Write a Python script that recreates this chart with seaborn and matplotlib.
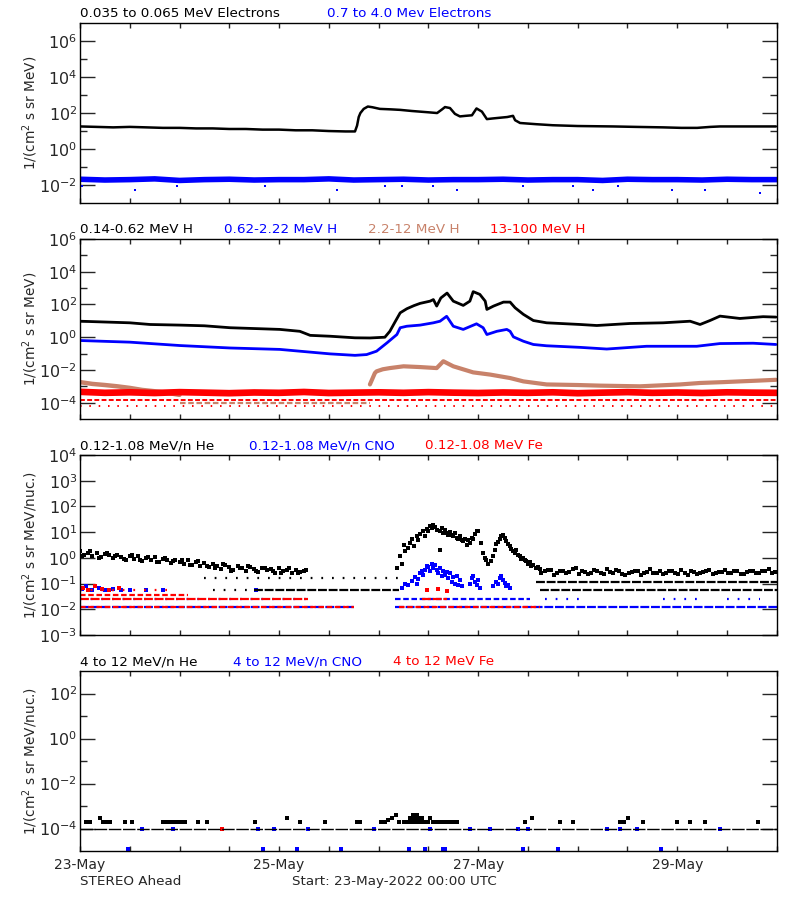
import numpy as np
import pandas as pd
import matplotlib.pyplot as plt
import matplotlib.ticker as mticker
import seaborn as sns

sns.set_style("ticks")
plt.rcParams["font.family"] = ["DejaVu Sans"]
plt.rcParams["mathtext.fontset"] = "dejavusans"

BLACK, BLUE, BROWN, RED = "#000000", "#0000ff", "#c8826a", "#ff0000"

# time axis: hours since 23-May-2022 00:00 UTC
tick_hours = list(range(0, 169, 12))
tick_labels = ["23-May", "", "", "", "25-May", "", "", "", "27-May", "", "", "", "29-May", "", ""]

# ---------------- panel 1: electrons ----------------
e_low_hours = [0, 4, 8, 12, 16, 20, 24, 28, 32, 36,
               40, 44, 48, 52, 56, 60, 64, 66.3, 66.8, 67.2,
               67.6, 68.4, 69.4, 70.5, 72.3, 75, 77.2, 80, 84, 86.1,
               87.3, 88.0, 89.2, 90.4, 91.6, 93, 94.5, 95.6, 96.9, 98.1,
               99.5, 101.3, 103, 104.4, 104.9, 106.1, 110, 114, 120, 128.5,
               134, 140.6, 145, 148.8, 152, 154.3, 160, 167.8]
e_low_flux = [18, 17, 16, 17, 16, 15, 15, 14, 14, 13,
              13, 12, 12, 11, 11, 10, 9.5, 9.5, 20, 60,
              100, 170, 230, 210, 170, 160, 150, 130, 110, 100,
              160, 215, 190, 90, 65, 70, 75, 180, 120, 46,
              50, 55, 60, 70, 40, 28, 24, 21, 19, 18,
              17, 16, 15, 15, 17, 18, 18, 18]

e_high_hours = list(range(0, 169, 6))
e_high_flux = [0.021, 0.019, 0.020, 0.022, 0.018, 0.020, 0.021, 0.019, 0.020, 0.020,
               0.022, 0.019, 0.020, 0.021, 0.019, 0.020, 0.020, 0.021, 0.019, 0.020,
               0.020, 0.018, 0.021, 0.020, 0.020, 0.019, 0.021, 0.020, 0.020]
e_high_out_hours = [0.5, 13.3, 23.4, 44.6, 62.0, 73.5, 77.6, 85.1, 90.8, 106.8, 118.9, 123.7, 129.7, 142.7, 150.7, 164.0]
e_high_out_flux = [0.0085, 0.0056, 0.0085, 0.0085, 0.0056, 0.0085, 0.0085, 0.0085, 0.0056, 0.0085, 0.0085, 0.0056, 0.0085, 0.0056, 0.0056, 0.0036]

# ---------------- panel 2: protons ----------------
p_low_hours = [0, 6, 12, 16.9, 24.1, 30, 36.2, 43.4, 48.2, 53,
               55.5, 60.3, 66.3, 69.9, 73.5, 74.7, 76, 77.2, 78.8, 80.5,
               82, 84.4, 85.2, 86, 87, 87.6, 88.5, 90, 92.4, 94,
               94.8, 96.4, 97.7, 98.1, 99.7, 102.1, 103.7, 104.9, 106.9, 109.3,
               112.5, 120.6, 124.6, 132.6, 140.6, 147.1, 149.5, 151.9, 154.3, 159.1,
               164.7, 167.8]
p_low_flux = [9.5, 8.5, 7.6, 6.0, 5.5, 5.0, 3.8, 3.3, 3.0, 2.3,
              1.3, 1.15, 0.92, 0.9, 1.0, 2.3, 9, 31, 55, 85,
              117, 160, 200, 80, 250, 330, 500, 160, 88, 160,
              610, 415, 160, 50, 80, 140, 140, 63, 25, 10.5,
              7.6, 6.0, 5.2, 6.9, 7.6, 9.5, 6.0, 10.5, 19.5, 14,
              18, 17]

p_mid_hours = [0, 6, 12, 24.1, 36.2, 48.2, 53, 60.3, 66.3, 69.1,
               71.5, 74, 76.4, 77.2, 78.8, 82, 85.2, 86.8, 88.4, 90,
               92.4, 95.6, 97.2, 98.1, 100.5, 102.9, 103.7, 104.5, 106.9, 109.3,
               112.5, 120.6, 127, 136.6, 148.7, 154.3, 162.3, 167.8]
p_mid_flux = [0.63, 0.56, 0.5, 0.31, 0.22, 0.18, 0.14, 0.096, 0.078, 0.087,
              0.14, 0.45, 1.46, 3.8, 4.7, 5.5, 7.6, 9.5, 19, 4.7,
              3.0, 6.6, 3.8, 1.46, 2.3, 3.0, 2.3, 1.05, 0.57, 0.36,
              0.3, 0.24, 0.19, 0.28, 0.28, 0.41, 0.43, 0.36]

p_high_early_hours = [0, 3, 6, 9, 12, 15, 18, 21, 24]
p_high_early_flux = [0.0018, 0.0014, 0.0012, 0.001, 0.0008, 0.0006, 0.0005, 0.0004, 0.0003]
p_high_hours = [69.9, 71.1, 71.5, 73, 74.7, 78, 82, 86, 87.6, 90,
                94.8, 98.9, 103.7, 106.9, 112.5, 120, 125.4, 135, 144.7, 149.5,
                155, 159.1, 163, 167.8]
p_high_flux = [0.0013, 0.0065, 0.0082, 0.011, 0.013, 0.0167, 0.015, 0.013, 0.034, 0.0167,
               0.0071, 0.0052, 0.0032, 0.002, 0.0013, 0.0012, 0.0011, 0.001, 0.0013, 0.0016,
               0.0018, 0.002, 0.0022, 0.0025]
p_high_floor = [1.0e-4, 24, 69.9]   # flux, from hour, to hour

p_top_hours = list(range(0, 169, 6))
p_top_flux = [4.6e-4, 4.0e-4, 4.3e-4, 3.9e-4, 4.4e-4, 4.1e-4, 3.8e-4, 4.2e-4, 4.0e-4, 4.5e-4,
              3.9e-4, 4.1e-4, 4.3e-4, 4.0e-4, 4.4e-4, 4.1e-4, 3.9e-4, 4.2e-4, 4.0e-4, 4.3e-4,
              3.8e-4, 4.1e-4, 4.4e-4, 4.0e-4, 4.2e-4, 3.9e-4, 4.3e-4, 4.1e-4, 4.0e-4]
p_top_rows = [1.5e-4, 6.0e-5]

# ---------------- panel 3: 0.12-1.08 MeV/n ions ----------------
he_pre_hours = list(range(0, 55)) + [h + 0.5 for h in range(0, 55, 2)]
he_pre_flux = [1.8, 1.3, 1.6, 1.2, 1.5, 1.1, 1.4, 1.25, 0.95, 1.3,
               1.1, 0.8, 1.15, 0.9, 1.2, 0.75, 1.0, 0.85, 1.05, 0.7,
               0.9, 0.8, 0.65, 0.85, 0.7, 0.6, 0.8, 0.55, 0.7, 0.5,
               0.65, 0.45, 0.6, 0.5, 0.38, 0.55, 0.45, 0.35, 0.5, 0.4,
               0.3, 0.45, 0.36, 0.28, 0.42, 0.33, 0.38, 0.26, 0.4, 0.3,
               0.35, 0.25, 0.33, 0.28, 0.3,
               1.2, 1.9, 1.0, 1.6, 1.15, 0.9, 1.3, 0.8, 1.1, 0.7,
               1.0, 0.75, 0.85, 0.55, 0.75, 0.5, 0.4, 0.6, 0.32, 0.42,
               0.5, 0.3, 0.4, 0.32, 0.27, 0.4, 0.26, 0.34]

he_evt_hours = [76.4, 77.2, 77.6, 78.0, 78.4, 79.0, 79.6, 80.0, 80.5, 81.2,
                81.6, 82.0, 82.8, 83.2, 83.6, 84.0, 84.4, 84.8, 85.2, 85.6,
                86.0, 86.8, 86.8, 87.2, 87.6, 88.0, 88.4, 88.8, 89.2, 89.6,
                90.0, 90.4, 90.8, 91.2, 91.6, 92.0, 92.4, 92.8, 93.2, 93.6,
                94.0, 94.4, 94.8, 95.2, 95.6, 96.0, 96.8, 97.2, 97.6, 98.0,
                98.4, 99.2, 99.6, 100.0, 100.4, 100.8, 101.2, 101.6, 102.0, 102.4,
                102.8, 103.2, 103.6, 104.0, 104.4, 104.8, 105.2, 105.6, 106.0, 106.4,
                106.8, 107.2, 107.6, 108.0, 108.4, 108.8, 109.2, 110.0, 110.4, 111.0]
he_evt_flux = [0.41, 1.15, 0.6, 3.3, 1.8, 2.5, 3.8, 5.5, 3.0, 6.9,
               4.8, 8.5, 10.8, 7.0, 13.0, 11.0, 17.0, 14.5, 19.8, 16.0,
               12.5, 10.8, 2.1, 14.0, 9.0, 12.0, 9.4, 7.5, 10.0, 8.0,
               6.8, 9.0, 6.0, 5.5, 7.2, 5.0, 4.4, 5.5, 3.2, 4.8,
               3.8, 6.2, 5.5, 8.5, 11.5, 10.8, 3.8, 1.56, 1.0, 0.86,
               0.6, 0.74, 1.2, 2.1, 3.5, 4.0, 5.2, 6.8, 8.1, 6.0,
               4.4, 3.5, 2.8, 2.2, 1.8, 1.5, 2.0, 1.3, 1.15, 0.9,
               1.0, 0.8, 0.74, 0.6, 0.7, 0.5, 0.55, 0.41, 0.45, 0.38]

he_post_hours = [110.5 + 1.5 * i for i in range(39)] + [111.25 + 1.5 * i for i in range(38)]
he_post_flux = [0.4, 0.3, 0.35, 0.25, 0.32, 0.28, 0.42, 0.3, 0.24, 0.33,
                0.27, 0.36, 0.25, 0.3, 0.22, 0.28, 0.32, 0.25, 0.38, 0.27,
                0.24, 0.3, 0.26, 0.33, 0.22, 0.28, 0.25, 0.31, 0.24, 0.29,
                0.35, 0.26, 0.3, 0.24, 0.32, 0.27, 0.3, 0.36, 0.28,
                0.27, 0.33, 0.22, 0.3, 0.25, 0.36, 0.23, 0.29, 0.26, 0.31,
                0.24, 0.28, 0.34, 0.23, 0.27, 0.3, 0.22, 0.29, 0.25, 0.32,
                0.26, 0.3, 0.23, 0.27, 0.31, 0.24, 0.28, 0.33, 0.25, 0.29,
                0.26, 0.31, 0.24, 0.28, 0.3, 0.25, 0.32, 0.27]

cno_evt_hours = [77.6, 78.4, 79.2, 80.0, 80.8, 81.2, 81.6, 82.0, 82.4, 82.8,
                 83.2, 83.6, 84.0, 84.4, 84.8, 85.2, 85.6, 86.0, 86.4, 86.8,
                 87.2, 87.6, 88.0, 88.4, 88.8, 89.2, 89.6, 90.0, 90.4, 90.8,
                 91.2, 91.6, 92.0, 94.0, 94.4, 94.8, 95.2, 95.6, 96.0, 96.4,
                 99.6, 100.4, 100.8, 101.2, 101.6, 102.0, 102.4, 102.8, 103.2, 103.6]
cno_evt_flux = [0.07, 0.1, 0.09, 0.13, 0.18, 0.1, 0.15, 0.25, 0.3, 0.22,
                0.35, 0.5, 0.45, 0.3, 0.6, 0.4, 0.55, 0.35, 0.25, 0.42,
                0.2, 0.3, 0.22, 0.28, 0.16, 0.25, 0.12, 0.18, 0.1, 0.2,
                0.09, 0.14, 0.08, 0.1, 0.16, 0.2, 0.12, 0.09, 0.14, 0.07,
                0.08, 0.12, 0.1, 0.16, 0.2, 0.14, 0.11, 0.08, 0.09, 0.07]
cno_pre_hours = [0.5, 1.5, 3.0, 4.5, 6.0, 8.0, 10.0, 12.0, 16.0, 20.0, 42.5]
cno_pre_flux = [0.06, 0.08, 0.055, 0.07, 0.055, 0.06, 0.055, 0.055, 0.055, 0.055, 0.055]
fe_pts_hours = [0.8, 2.0, 3.5, 5.2, 7.0, 9.5, 83.6, 86.2, 88.6]
fe_pts_flux = [0.07, 0.055, 0.08, 0.06, 0.055, 0.065, 0.055, 0.06, 0.05]

# counting-level rows: flux, from hour, to hour
he_rows = [(0.16, 30, 77), (0.055, 32, 42), (0.055, 42, 77), (0.113, 110, 168), (0.055, 111, 168)]
he_row_styles = ["sparse", "sparse", "dense", "dense", "dense"]
cno_rows = [(0.012, 0, 66), (0.012, 76, 168), (0.026, 76, 108.5), (0.026, 112, 120.6),
            (0.026, 140.6, 148.8), (0.026, 156, 164), (0.026, 0, 55), (0.055, 0, 10)]
cno_row_styles = ["dense", "dense", "dash", "sparse", "sparse", "sparse", "sparse", "sparse"]
fe_rows = [(0.012, 0, 66), (0.012, 77, 111), (0.026, 0, 55), (0.037, 0, 26), (0.055, 0, 21), (0.026, 82.4, 88.5)]
fe_row_styles = ["dash", "dash", "dense", "dash", "sparse", "dense"]

# ---------------- panel 4: 4-12 MeV/n ions ----------------
he4_hours = [1.4, 2.4, 4.8, 5.5, 6.5, 7.2, 10.8, 12.5, 20.0, 20.8,
             21.6, 22.4, 23.2, 24.0, 24.6, 25.3, 28.5, 30.6, 42.2, 49.9,
             53.0, 59.1, 66.8, 67.5, 72.5, 73.1, 73.5, 74.3, 75.2, 76.2,
             77.0, 78.0, 79.0, 79.6, 80.0, 80.2, 80.5, 81.0, 81.2, 81.5,
             82.0, 82.5, 83.0, 84.0, 84.5, 85.0, 86.0, 87.0, 88.0, 89.0,
             90.0, 91.0, 107.3, 109.0, 115.7, 118.9, 130.2, 131.2, 132.1, 135.7,
             143.9, 147.1, 150.7, 163.5]
he4_flux = [2e-4, 2e-4, 2.8e-4, 2e-4, 2e-4, 2e-4, 2e-4, 2e-4, 2e-4, 2e-4,
            2e-4, 2e-4, 2e-4, 2e-4, 2e-4, 2e-4, 2e-4, 2e-4, 2e-4, 2.8e-4,
            2e-4, 2e-4, 2e-4, 2e-4, 2e-4, 2e-4, 2e-4, 2.4e-4, 2.8e-4, 3.9e-4,
            2e-4, 2e-4, 2e-4, 2.8e-4, 2e-4, 3.9e-4, 2.8e-4, 2e-4, 3.9e-4, 2.8e-4,
            2e-4, 2.8e-4, 2e-4, 2e-4, 2.8e-4, 2e-4, 2e-4, 2e-4, 2e-4, 2e-4,
            2e-4, 2e-4, 2e-4, 2.8e-4, 2e-4, 2e-4, 2e-4, 2e-4, 2.8e-4, 2e-4,
            2e-4, 2e-4, 2e-4, 2e-4]
he4_floor = [1.0e-4, 0, 168]
cno4_hours = [14.9, 22.4, 42.9, 46.8, 55.0, 70.9, 84.4, 94.0, 98.9, 105.6, 108.0, 127.1, 130.2, 134.3, 154.3,
              11.6, 44.1, 52.3, 62.9, 79.3, 83.2, 87.5, 88.0, 106.8, 115.2, 140.1]
cno4_flux = [1e-4] * 15 + [1.2e-5] * 11
fe4_hours = [34.2]
fe4_flux = [1e-4]


def line(ax, hours, flux, color, lw):
    sns.lineplot(x=hours, y=flux, ax=ax, color=color, linewidth=lw, sort=False, estimator=None)


def dots(ax, hours, flux, color, size=6):
    sns.scatterplot(x=hours, y=flux, ax=ax, color=color, s=size, marker="s", linewidth=0)


row_ls = {"dense": (0, (4, 0.8)), "dash": (0, (2.5, 1.2)), "sparse": (0, (0.8, 4))}


def rows(ax, segs, styles, color):
    for (v, a, b), st in zip(segs, styles):
        ax.hlines(v, a, b, colors=color, linewidth=1.6, linestyles=[row_ls[st]])


def style_axis(ax, ylim, major, minor, ylabel):
    ax.set_yscale("log")
    ax.set_ylim(*ylim)
    ax.set_xlim(0, 168)
    ax.set_xticks(tick_hours)
    ax.set_xticklabels([])
    ax.yaxis.set_major_locator(mticker.FixedLocator(major))
    ax.yaxis.set_minor_locator(mticker.FixedLocator(minor))
    ax.yaxis.set_major_formatter(mticker.FuncFormatter(
        lambda v, p: r"$10^{%d}$" % int(round(np.log10(v)))))
    ax.yaxis.set_minor_formatter(mticker.NullFormatter())
    ax.tick_params(axis="y", which="major", direction="in", length=11, width=1,
                   left=True, right=True, labelsize=11.5, pad=2)
    ax.tick_params(axis="y", which="minor", direction="in", length=5, width=1,
                   left=True, right=True)
    ax.tick_params(axis="x", which="major", direction="in", length=3.5, width=1,
                   top=True, bottom=True, labelsize=10, pad=5)
    ax.set_xlabel("")
    ax.set_ylabel(ylabel, fontsize=9.8)
    ax.yaxis.set_label_coords(-0.058, 0.5)
    for s in ax.spines.values():
        s.set_visible(True)
        s.set_linewidth(1)
        s.set_color("black")


fig = plt.figure(figsize=(8, 9), dpi=100)
bottoms = [0.7744, 0.5344, 0.2944, 0.0544]
axes = [fig.add_axes([0.1, b, 0.871, 0.2]) for b in bottoms]
unit = "1/(cm$^2$ s sr MeV)"
unit_n = "1/(cm$^2$ s sr MeV/nuc.)"

# panel 1
ax = axes[0]
style_axis(ax, (1e-3, 1e7), [1e-2, 1, 1e2, 1e4, 1e6], [1e-1, 1e1, 1e3, 1e5], unit)
line(ax, e_high_hours, e_high_flux, BLUE, 4.0)
dots(ax, e_high_out_hours, e_high_out_flux, BLUE, 4)
line(ax, e_low_hours, e_low_flux, BLACK, 1.8)

# panel 2
ax = axes[1]
style_axis(ax, (1e-5, 1e6), [1e-4, 1e-2, 1, 1e2, 1e4, 1e6], [1e-3, 1e-1, 1e1, 1e3, 1e5], unit)
ax.hlines(p_high_floor[0], p_high_floor[1], p_high_floor[2], colors=BROWN, linewidth=1.6,
          linestyles=[row_ls["dash"]])
line(ax, p_high_early_hours, p_high_early_flux, BROWN, 3.2)
line(ax, p_high_hours, p_high_flux, BROWN, 3.0)
line(ax, p_top_hours, p_top_flux, RED, 4.8)
ax.hlines(p_top_rows[0], 0, 168, colors=RED, linewidth=1.4, linestyles=[row_ls["dash"]])
ax.hlines(p_top_rows[1], 0, 168, colors=RED, linewidth=1.4, linestyles=[row_ls["sparse"]])
line(ax, p_mid_hours, p_mid_flux, BLUE, 2.0)
line(ax, p_low_hours, p_low_flux, BLACK, 2.0)

# panel 3
ax = axes[2]
style_axis(ax, (1e-3, 1e4), [1e-3, 1e-2, 1e-1, 1, 1e1, 1e2, 1e3, 1e4], [], unit_n)
rows(ax, he_rows, he_row_styles, BLACK)
dots(ax, he_pre_hours, he_pre_flux, BLACK, 7)
dots(ax, he_evt_hours, he_evt_flux, BLACK, 7)
dots(ax, he_post_hours, he_post_flux, BLACK, 7)
rows(ax, cno_rows, cno_row_styles, BLUE)
dots(ax, cno_evt_hours, cno_evt_flux, BLUE, 6)
dots(ax, cno_pre_hours, cno_pre_flux, BLUE, 6)
rows(ax, fe_rows, fe_row_styles, RED)
dots(ax, fe_pts_hours, fe_pts_flux, RED, 6)

# panel 4
ax = axes[3]
style_axis(ax, (1e-5, 1e3), [1e-4, 1e-2, 1, 1e2], [1e-3, 1e-1, 1e1], unit_n)
ax.hlines(he4_floor[0], he4_floor[1], he4_floor[2], colors=BLACK, linewidth=1.0,
          linestyles=[(0, (9, 1.2))])
dots(ax, he4_hours, he4_flux, BLACK, 5)
dots(ax, cno4_hours, cno4_flux, BLUE, 5)
dots(ax, fe4_hours, fe4_flux, RED, 5)
ax.set_xticklabels(tick_labels)

# panel titles
titles = [
    [(80, "0.035 to 0.065 MeV Electrons", BLACK), (327, "0.7 to 4.0 Mev Electrons", BLUE)],
    [(80, "0.14-0.62 MeV H", BLACK), (224, "0.62-2.22 MeV H", BLUE),
     (368, "2.2-12 MeV H", BROWN), (490, "13-100 MeV H", RED)],
    [(80, "0.12-1.08 MeV/n He", BLACK), (249, "0.12-1.08 MeV/n CNO", BLUE),
     (425, "0.12-1.08 MeV Fe", RED)],
    [(80, "4 to 12 MeV/n He", BLACK), (233, "4 to 12 MeV/n CNO", BLUE),
     (393, "4 to 12 MeV Fe", RED)],
]
for b, items in zip(bottoms, titles):
    for xp, txt, col in items:
        fig.text(xp / 800, b + 0.2 + 6 / 900, txt, color=col, fontsize=9.7,
                 ha="left", va="baseline")

fig.text(80 / 800, 15 / 900, "STEREO Ahead", fontsize=9.7, ha="left", va="baseline")
fig.text(292 / 800, 15 / 900, "Start: 23-May-2022 00:00 UTC", fontsize=9.7,
         ha="left", va="baseline")

fig.savefig("out.png", dpi=100)
